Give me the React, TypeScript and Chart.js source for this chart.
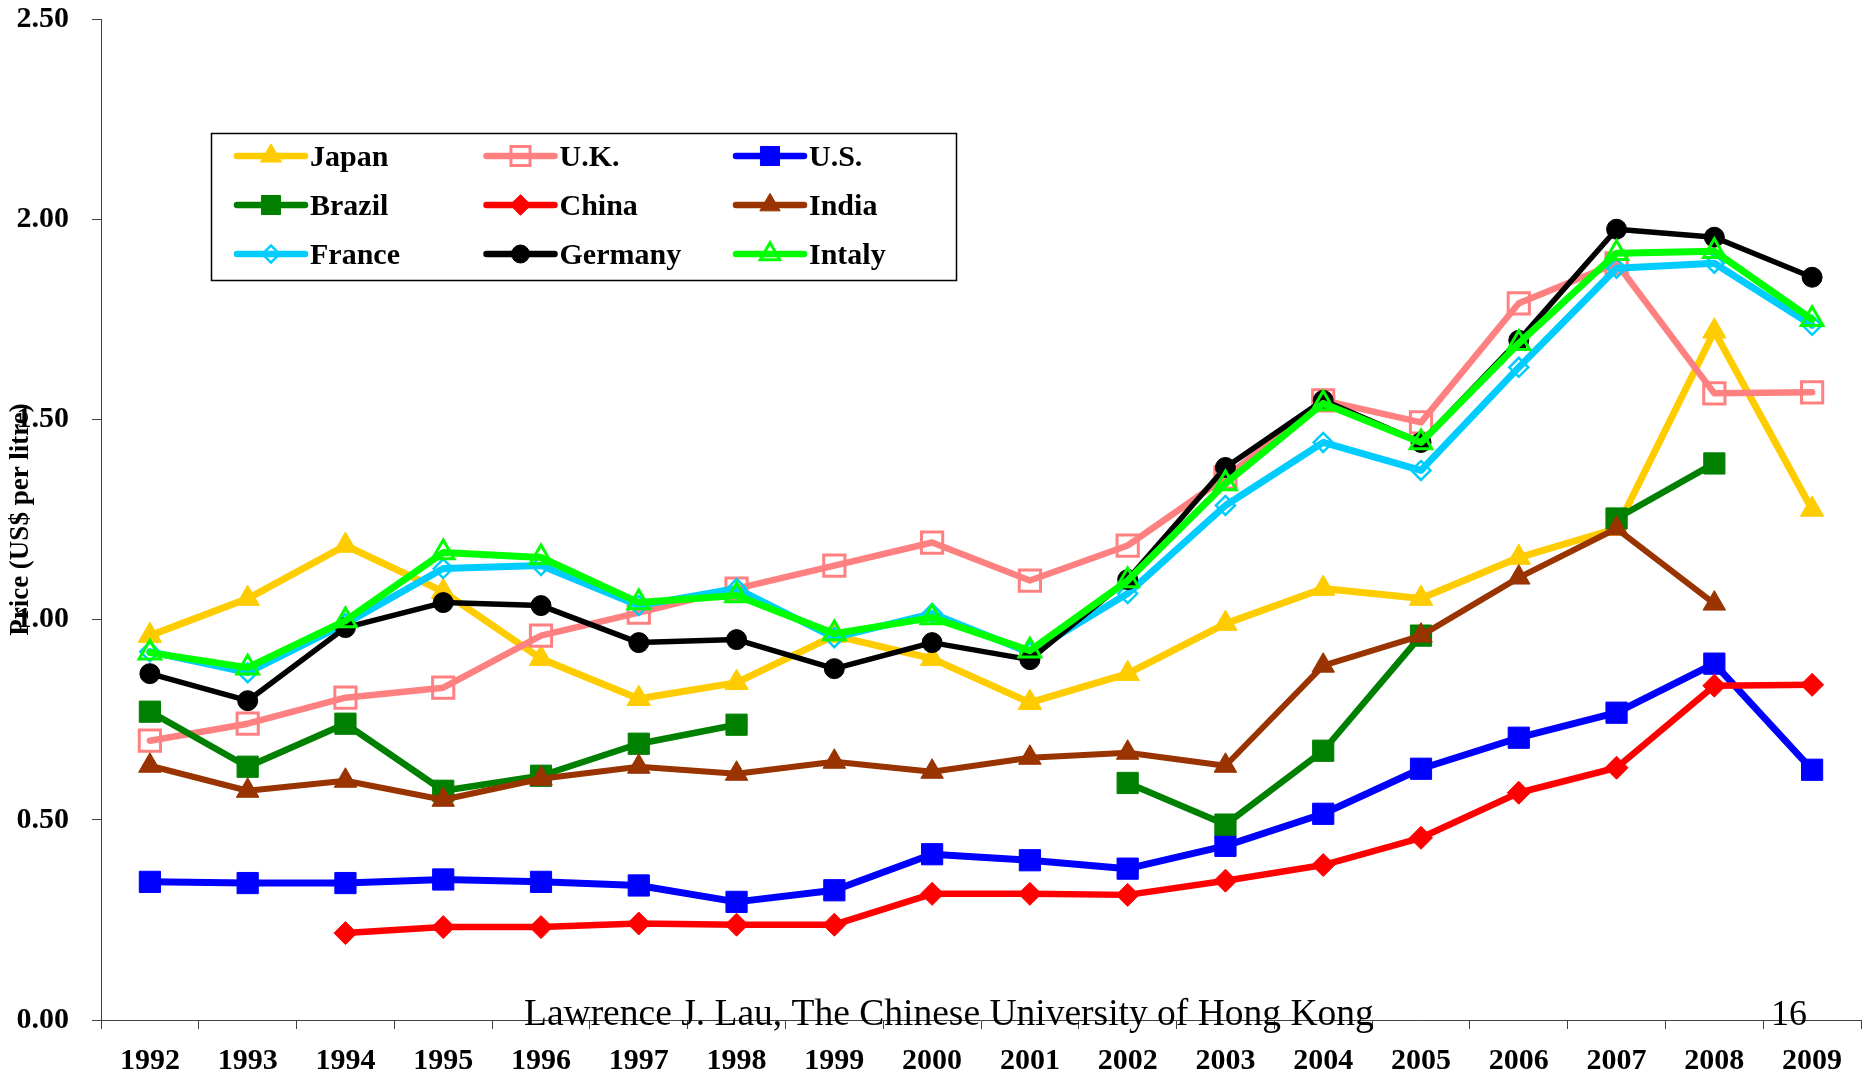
import React, { useEffect, useRef } from 'react';
import { Chart, registerables } from 'chart.js';
import { drawPoint } from 'chart.js/helpers';

Chart.register(...registerables);

const years = ['1992', '1993', '1994', '1995', '1996', '1997', '1998', '1999', '2000', '2001', '2002', '2003', '2004', '2005', '2006', '2007', '2008', '2009'];

const japan = [0.96, 1.0525, 1.185, 1.07, 0.9025, 0.8025, 0.8425, 0.96, 0.9025, 0.7925, 0.865, 0.99, 1.0775, 1.0525, 1.155, 1.2275, 1.72, 1.275];
const uk = [0.6975, 0.74, 0.805, 0.83, 0.96, 1.0175, 1.0775, 1.135, 1.1925, 1.0975, 1.185, 1.355, 1.5475, 1.4925, 1.79, 1.89, 1.565, 1.5675];
const us = [0.345, 0.342, 0.342, 0.351, 0.345, 0.336, 0.295, 0.324, 0.414, 0.399, 0.378, 0.435, 0.515, 0.6275, 0.705, 0.7675, 0.89, 0.625];
const brazil = [0.77, 0.6325, 0.74, 0.5725, 0.61, 0.69, 0.7375, null, null, null, 0.592, 0.488, 0.6725, 0.96, null, 1.2525, 1.39, null];
const china = [null, null, 0.217, 0.232, 0.232, 0.241, 0.238, 0.238, 0.315, 0.315, 0.3125, 0.348, 0.387, 0.455, 0.5675, 0.63, 0.835, 0.837];
const india = [0.635, 0.5725, 0.5975, 0.55, 0.6025, 0.6325, 0.615, 0.645, 0.62, 0.655, 0.6675, 0.635, 0.885, 0.96, 1.105, 1.2275, 1.04, null];
const france = [0.92, 0.8675, 0.99, 1.1275, 1.135, 1.035, 1.0775, 0.955, 1.015, 0.9175, 1.065, 1.285, 1.4425, 1.3725, 1.63, 1.8775, 1.89, 1.735];
const germany = [0.865, 0.7975, 0.98, 1.0425, 1.035, 0.9425, 0.95, 0.8775, 0.9425, 0.9, 1.1, 1.38, 1.5475, 1.4425, 1.6975, 1.975, 1.955, 1.855];
const italy = [0.9175, 0.88, 0.9975, 1.1675, 1.155, 1.0425, 1.06, 0.965, 1.005, 0.9225, 1.0975, 1.34, 1.54, 1.4425, 1.69, 1.915, 1.92, 1.75];

const seriesNames = ['Japan', 'U.K.', 'U.S.', 'Brazil', 'China', 'India', 'France', 'Germany', 'Intaly'];
const seriesValues = [japan, uk, us, brazil, china, india, france, germany, italy];

const yMin = 0;
const yMax = 2.5;
const yStep = 0.5;

const yTitle = 'Price (US$ per litre)';
const footerText = 'Lawrence J. Lau, The Chinese University of Hong Kong';
const pageNumber = '16';

const FONT = "'Liberation Serif', 'Times New Roman', serif";

type Style = { color: string; point: string; radius: number; hollow: boolean; pbw: number; lw: number };
const styles: Style[] = [
  { color: '#FFCC00', point: 'triangle', radius: 13.5, hollow: false, pbw: 1, lw: 7 },
  { color: '#FF8080', point: 'rect', radius: 15, hollow: true, pbw: 3, lw: 6.5 },
  { color: '#0000FF', point: 'rect', radius: 15, hollow: false, pbw: 1, lw: 7 },
  { color: '#008000', point: 'rect', radius: 15, hollow: false, pbw: 1, lw: 6.5 },
  { color: '#FF0000', point: 'rectRot', radius: 11.5, hollow: false, pbw: 1, lw: 6.5 },
  { color: '#993300', point: 'triangle', radius: 13, hollow: false, pbw: 1, lw: 6 },
  { color: '#00CCFF', point: 'rectRot', radius: 9.5, hollow: true, pbw: 2.5, lw: 7 },
  { color: '#000000', point: 'circle', radius: 10, hollow: false, pbw: 1, lw: 5.5 },
  { color: '#00FF00', point: 'triangle', radius: 12.5, hollow: true, pbw: 3, lw: 7 },
];

const overlayPlugin = {
  id: 'overlay',
  afterDraw(chart: any) {
    const ctx: CanvasRenderingContext2D = chart.ctx;
    ctx.save();
    // legend box
    ctx.fillStyle = '#ffffff';
    ctx.fillRect(211, 133, 745, 147);
    ctx.strokeStyle = '#000000';
    ctx.lineWidth = 1.5;
    ctx.strokeRect(211.5, 133.5, 745, 147);
    chart.data.datasets.forEach((ds: any, i: number) => {
      const col = i % 3;
      const row = Math.floor(i / 3);
      const x0 = 237 + col * 249.5;
      const y = 156 + row * 49;
      ctx.strokeStyle = ds.borderColor;
      ctx.lineWidth = 6.5;
      ctx.lineCap = 'round';
      ctx.beginPath();
      ctx.moveTo(x0, y);
      ctx.lineTo(x0 + 68, y);
      ctx.stroke();
      ctx.lineCap = 'butt';
      ctx.fillStyle = ds.pointBackgroundColor;
      ctx.strokeStyle = ds.pointBorderColor;
      ctx.lineWidth = ds.pointBorderWidth;
      drawPoint(ctx, { pointStyle: ds.pointStyle, radius: ds.pointRadius * 0.9, borderWidth: ds.pointBorderWidth, rotation: 0 } as any, x0 + 34, y);
      ctx.fillStyle = '#000000';
      ctx.font = `bold 30px ${FONT}`;
      ctx.textBaseline = 'middle';
      ctx.textAlign = 'left';
      ctx.fillText(ds.label, x0 + 73, y + 2);
    });
    // footer
    ctx.fillStyle = '#000000';
    ctx.font = `37.5px ${FONT}`;
    ctx.textBaseline = 'alphabetic';
    ctx.textAlign = 'left';
    ctx.fillText(footerText, 524, 1025);
    ctx.font = `36px ${FONT}`;
    ctx.fillText(pageNumber, 1771, 1025);
    ctx.restore();
  },
};

export default function App() {
  const ref = useRef<HTMLCanvasElement | null>(null);
  useEffect(() => {
    if (!ref.current) return;
    const datasets = seriesValues.map((vals, i) => {
      const s = styles[i];
      return {
        label: seriesNames[i],
        data: vals,
        borderColor: s.color,
        backgroundColor: s.color,
        borderWidth: s.lw,
        borderJoinStyle: 'round',
        borderCapStyle: 'round',
        pointStyle: s.point,
        pointRadius: s.radius,
        pointHoverRadius: s.radius,
        pointBorderWidth: s.pbw,
        pointBorderColor: s.color,
        pointBackgroundColor: s.hollow ? 'rgba(0,0,0,0)' : s.color,
        spanGaps: false,
        tension: 0,
        fill: false,
        clip: 30,
        order: seriesNames.length - 1 - i,
      };
    });
    const chart = new Chart(ref.current, {
      type: 'line',
      data: { labels: years, datasets: datasets as any },
      options: {
        animation: false,
        responsive: false,
        devicePixelRatio: 1,
        layout: { autoPadding: false, padding: { top: 19, right: 5, left: 0, bottom: 0 } },
        plugins: { legend: { display: false }, tooltip: { enabled: false } },
        scales: {
          x: {
            type: 'category',
            offset: true,
            grid: { offset: true, drawOnChartArea: false, drawTicks: true, tickLength: 9, tickColor: '#404040', tickWidth: 1 },
            border: { color: '#404040', width: 1 },
            ticks: { font: { family: FONT, size: 30, weight: 'bold' }, color: '#000000', padding: 14, maxRotation: 0, autoSkip: false },
            afterFit: (s: any) => {
              s.height = 57;
              s.paddingLeft = 0;
              s.paddingRight = 0;
              s.paddingTop = 0;
              s.paddingBottom = 0;
            },
          },
          y: {
            min: yMin,
            max: yMax,
            grid: { drawOnChartArea: false, drawTicks: true, tickLength: 9, tickColor: '#404040', tickWidth: 1 },
            border: { color: '#404040', width: 1 },
            ticks: {
              stepSize: yStep,
              font: { family: FONT, size: 30, weight: 'bold' },
              color: '#000000',
              padding: 23,
              callback: (v: any) => Number(v).toFixed(2),
            },
            title: { display: true, text: yTitle, font: { family: FONT, size: 27, weight: 'bold' }, color: '#000000', padding: { top: 5, bottom: 0 } },
            afterFit: (s: any) => {
              s.width = 101;
              s.paddingTop = 0;
              s.paddingBottom = 0;
              s.paddingLeft = 0;
              s.paddingRight = 0;
            },
          },
        },
      } as any,
      plugins: [overlayPlugin],
    });
    return () => chart.destroy();
  }, []);
  return (
    <div style={{ position: 'fixed', left: 0, top: 0, width: 1866, height: 1077, background: '#ffffff' }}>
      <canvas ref={ref} width={1866} height={1077} style={{ display: 'block' }} />
    </div>
  );
}
